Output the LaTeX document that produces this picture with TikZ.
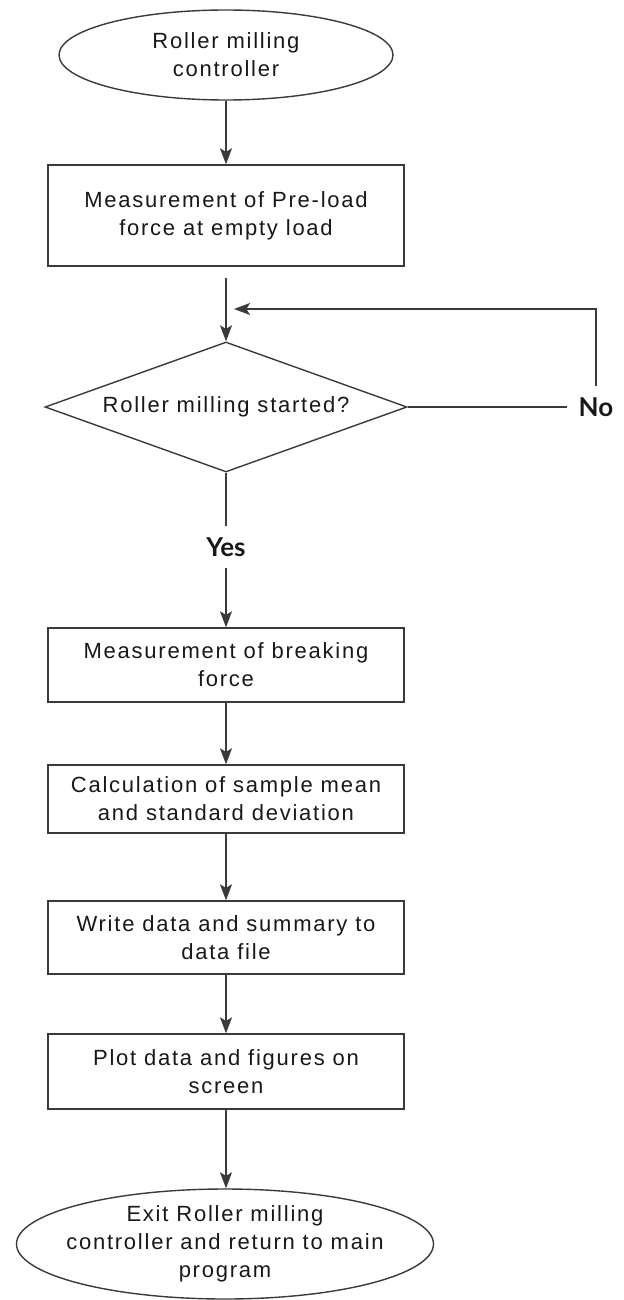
\documentclass[tikz,border=0pt]{standalone}
\usepackage{fontspec}
\setmainfont[LetterSpace=8]{Liberation Sans}
\newfontfamily\labelfont{Lato}
\usetikzlibrary{shapes.geometric,arrows.meta}
\definecolor{ink}{RGB}{24,24,24}
\definecolor{edge}{RGB}{58,58,58}
\newcommand\flowtext{\fontsize{11}{14}\selectfont}

\begin{document}
\begin{tikzpicture}[x=0.5pt,y=-0.5pt,
  wire/.style={draw=edge, line width=0.7pt},
  arr/.style={wire, -{Stealth[length=8pt,width=6pt,inset=1.8pt]}},
  term/.style={ellipse, wire, text=ink, inner sep=0pt, align=center, font=\flowtext},
  proc/.style={rectangle, wire, text=ink, inner sep=0pt, minimum width=178pt, align=center, font=\flowtext},
  decide/.style={diamond, wire, text=ink, aspect=2.78, inner sep=0pt,
                 minimum width=181pt, minimum height=65pt, font=\flowtext},
  yn/.style={text=ink, inner sep=5.5pt, font=\labelfont\bfseries\fontsize{13}{15}\selectfont}
]
\useasboundingbox (0,0) rectangle (623,1300);

% blocks of the flow
\node[term, minimum width=167pt, minimum height=45pt] (start) at (226,55)
  {Roller milling\\controller};
\node[proc, minimum height=50.5pt] (preload) at (226,215.5)
  {Measurement of Pre-load\\force at empty load};
\coordinate (join) at (226,278);
\node[decide] (started) at (226,407) {Roller milling started?};
\node[yn] (no) at (596,407) {No};
\node[yn] (yes) at (226,547) {Yes};
\node[proc, minimum height=37pt] (breaking) at (226,665)
  {Measurement of breaking\\force};
\node[proc, minimum height=34pt] (stats) at (226,799)
  {Calculation of sample mean\\and standard deviation};
\node[proc, minimum height=36.5pt] (write) at (226,937.5)
  {Write data and summary to\\data file};
\node[proc, minimum height=37.5pt] (plot) at (226,1071.5)
  {Plot data and figures on\\screen};
\node[term, inner xsep=-8pt, minimum width=208.5pt, minimum height=55pt] (exit) at (225,1244)
  {Exit Roller milling\\controller and return to main\\program};
\coordinate (loopend) at (234,309);

% connectors
\draw[arr] (start) -- (preload);
\draw[arr] (join) -- (started);
\draw[wire] (started) -- (no);
\draw[arr] (no.north) |- (loopend);
\draw[wire] (started) -- (yes);
\draw[arr] (yes) -- (breaking);
\draw[arr] (breaking) -- (stats);
\draw[arr] (stats) -- (write);
\draw[arr] (write) -- (plot);
\draw[arr] (plot) -- (exit.north -| plot.south);
\end{tikzpicture}
\end{document}
